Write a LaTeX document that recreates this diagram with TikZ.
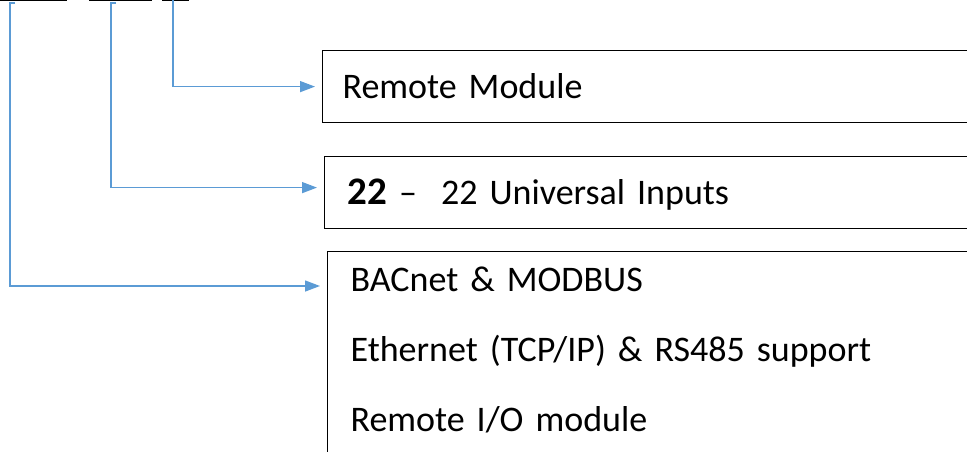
\documentclass[tikz,border=0pt]{standalone}
\usepackage{fontspec}
\setmainfont{Carlito}
\usetikzlibrary{arrows.meta}
\definecolor{linkblue}{RGB}{91,155,213}
\begin{document}
\begin{tikzpicture}[x=1pt,y=-1pt,
  box/.style={draw, line width=1.2pt, anchor=north west, inner xsep=20pt, inner ysep=0pt,
    text width=640pt, align=left, minimum height=72pt, text height=25pt, text depth=1pt,
    font=\fontsize{36}{70}\selectfont},
  link/.style={draw=linkblue, line width=1.4pt, -{Triangle[length=15pt,width=11pt]}, shorten >=7pt}]
\useasboundingbox (0,0) rectangle (967,451);

% underlines of the code
\draw[line width=2pt] (0,0) -- (67,0);
\draw[line width=2pt] (89,0) -- (152,0);
\draw[line width=2pt] (162,0) -- (189,0);
\coordinate (s1) at (15,3);
\coordinate (u1) at (10,3);
\coordinate (s2) at (116,3);
\coordinate (u2) at (111,3);
\coordinate (u3) at (173,0);

\node[box] (remote) at (322,50) {Remote Module};
\node[box, inner xsep=23pt] (inputs) at (324,156)
  {{\fontsize{39}{70}\selectfont\bfseries 22} –\hspace{24pt}22 Universal Inputs};
\node[box, inner xsep=23pt, minimum height=0pt, text height=40pt, text depth=250pt] (comms) at (327,251)
  {BACnet \& MODBUS\\Ethernet (TCP/IP) \& RS485 support\\Remote I/O module};

\path[link] (u3) |- (remote.west);
\path[link] (s2) -- (u2) |- ([yshift=5pt]inputs.west);
\path[link] (s1) -- (u1) |- ([yshift=-35pt]comms.north west);
\end{tikzpicture}
\end{document}
